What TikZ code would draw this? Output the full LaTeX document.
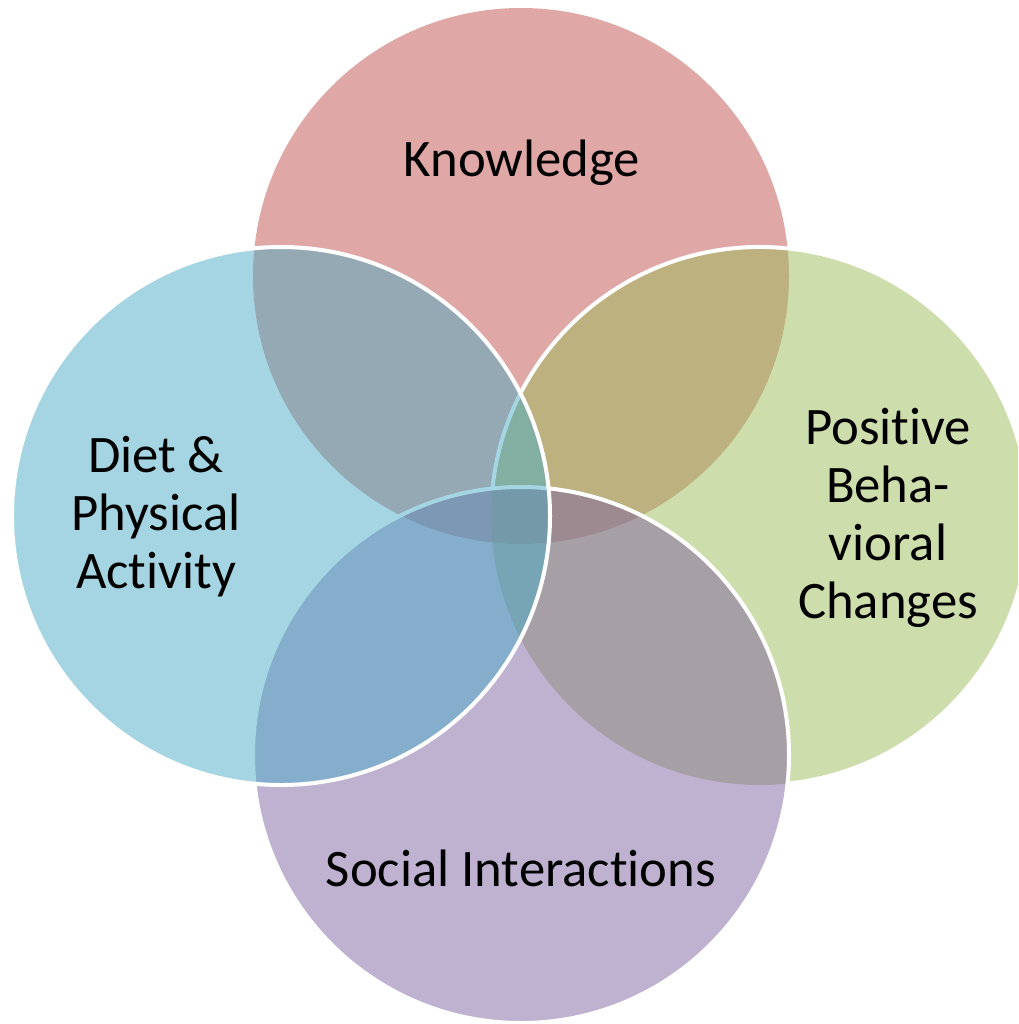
\documentclass[tikz,border=0pt]{standalone}
\usepackage{fontspec}
\setmainfont{Carlito}[Ligatures={NoCommon}]
\definecolor{knowc}{HTML}{C0504D}
\definecolor{dietc}{HTML}{4BACC6}
\definecolor{posc}{HTML}{9BBB59}
\definecolor{socc}{HTML}{8064A2}
\tikzset{
  disc/.style={fill=#1, fill opacity=0.5},
  rim/.style={draw=white, line width=0.08cm},
  label/.style={align=center, text=black, font=\fontsize{30}{33}\selectfont, inner sep=0pt}
}
\begin{document}
\begin{tikzpicture}[x=0.02cm,y=-0.02cm]
  \useasboundingbox (0,0) rectangle (1018,1024);
  \clip (0,0) rectangle (1018,1024);
  % circle centres
  \coordinate (K) at (521,276);
  \coordinate (P) at (760,516);
  \coordinate (S) at (521,755);
  \coordinate (D) at (281,516);
  % Knowledge
  \fill[disc=knowc] (K) circle[radius=268];
  % Positive Behavioral Changes: rim left open where the social circle lies over it
  \fill[disc=posc] (P) circle[radius=269];
  \draw[rim] ([shift={(186:269)}]P) arc[start angle=186, end angle=444, radius=269];
  % Social Interactions
  \fill[disc=socc] (S) circle[radius=268];
  \draw[rim] (S) circle[radius=268];
  % Diet & Physical Activity
  \fill[disc=dietc] (D) circle[radius=269];
  \draw[rim] (D) circle[radius=269];
  % labels
  \node[label] (tk) at (522,163) {Knowledge};
  \node[label] (td) at (156,517) {Diet \&\\Physical\\Activity};
  \node[label] (tp) at (888,518) {Positive\\Beha-\\vioral\\Changes};
  \node[label] (ts) at (521,868) {Social Interactions};
\end{tikzpicture}
\end{document}
